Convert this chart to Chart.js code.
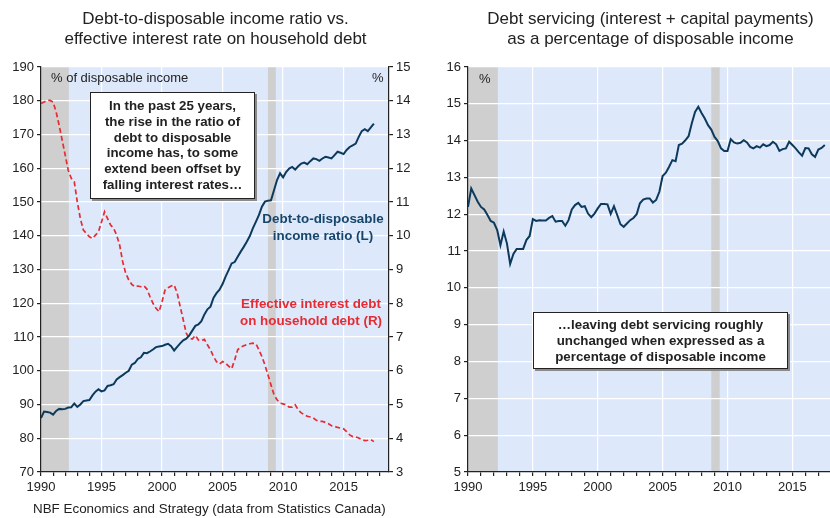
<!DOCTYPE html>
<html>
<head>
<meta charset="utf-8">
<script src="https://cdn.jsdelivr.net/npm/chart.js@4"></script>
<style>
  body { margin: 0; background: #fff; font-family: "Liberation Sans", Arial, sans-serif; color: #222; }
  #wrap { position: relative; width: 830px; height: 518px; overflow: hidden; }
  canvas { position: absolute; top: 0; }
  .title { position: absolute; top: 9px; width: 415px; text-align: center; font-size: 17px; line-height: 20px; }
  .note { position: absolute; background: #fff; border: 1px solid #222; box-shadow: 2px 2px 0 #8a8a8a;
          font-weight: bold; font-size: 13.3px; line-height: 15.8px; text-align: center; box-sizing: border-box; }
  .lbl { position: absolute; font-size: 13px; }
  .serie { position: absolute; font-weight: bold; font-size: 13.4px; line-height: 16.5px; text-align: center; }
</style>
</head>
<body>
<div id="wrap">
  <canvas id="ratioChart" width="415" height="518" style="left:0"></canvas>
  <canvas id="serviceChart" width="415" height="518" style="left:415px"></canvas>

  <div class="title" style="left:8px">Debt-to-disposable income ratio vs.<br>effective interest rate on household debt</div>
  <div class="title" style="left:443px">Debt servicing (interest + capital payments)<br>as a percentage of disposable income</div>

  <div class="lbl" style="left:51px; top:70px">% of disposable income</div>
  <div class="lbl" style="left:372px; top:70px">%</div>
  <div class="lbl" style="left:479px; top:71px">%</div>

  <div class="note" style="left:90px; top:92px; width:165px; height:107px; padding-top:5px">
    In the past 25 years,<br>the rise in the ratio of<br>debt to disposable<br>income has, to some<br>extend been offset by<br>falling interest rates…
  </div>
  <div class="note" style="left:533px; top:312px; width:255px; height:57px; padding-top:4px">
    …leaving debt servicing roughly<br>unchanged when expressed as a<br>percentage of disposable income
  </div>

  <div class="serie" style="left:243px; top:211px; width:160px; color:#17466a">Debt-to-disposable<br>income ratio (L)</div>
  <div class="serie" style="left:226px; top:296px; width:170px; color:#e62b33">Effective interest debt<br>on household debt (R)</div>

  <div class="lbl" style="left:33px; top:501px; font-size:13.4px">NBF Economics and Strategy (data from Statistics Canada)</div>
</div>

<script>
// quarterly series, first quarter of 1990 to the second quarter of 2017
var firstYear = 1990;

// household debt as % of disposable income (left axis)
var debtToIncome = [
  86.0, 87.9, 87.8, 87.6,  87.0, 88.1, 88.7, 88.6,  88.7, 89.1, 89.2, 90.3,
  89.3, 90.0, 91.0, 91.2,  91.3, 92.7, 93.8, 94.5,  93.9, 94.2, 95.5, 95.7,
  96.0, 97.4, 98.1, 98.7,  99.4, 100.0, 101.8, 102.3,  103.5, 104.0, 105.3, 105.2,
  105.7, 106.3, 107.0, 107.2,  107.3, 107.7, 108.0, 107.3,  106.0, 107.1, 108.1, 109.0,
  109.5, 110.5, 111.9, 113.3,  113.7, 114.7, 116.7, 118.2,  119.0, 121.6, 123.0, 124.0,
  125.7, 127.9, 129.8, 131.8,  132.2, 133.8, 135.3, 136.7,  138.2, 139.9, 142.2, 144.1,
  146.1, 148.6, 150.1, 150.4,  150.5, 153.5, 156.5, 158.5,  157.3, 158.9, 159.9, 160.4,
  159.6, 160.6, 161.4, 161.7,  161.2, 162.1, 162.9, 162.7,  162.2, 162.9, 163.4, 163.2,
  162.9, 163.9, 164.9, 164.6,  164.2, 165.4, 166.3, 166.8,  167.3, 169.3, 171.0, 171.6,
  171.0, 172.1, 173.2
];

// effective interest rate on household debt, % (right axis)
var effectiveRate = [
  13.92, 13.96, 14.01, 14.01,  13.96, 13.67, 13.27, 12.83,  12.39, 11.94, 11.70, 11.60,
  11.00, 10.51, 10.17, 10.07,  9.97, 9.92, 10.02, 10.12,  10.41, 10.71, 10.51, 10.32,
  10.22, 10.02, 9.72, 9.23,  8.89, 8.69, 8.56, 8.49,  8.51, 8.49, 8.52, 8.42,
  8.20, 8.00, 7.85, 7.75,  8.05, 8.39, 8.46, 8.51,  8.54, 8.30, 7.90, 7.51,
  7.11, 6.96, 6.94, 7.05,  6.91, 6.89, 6.93, 6.77,  6.62, 6.42, 6.27, 6.20,
  6.27, 6.22, 6.14, 6.06,  6.32, 6.62, 6.70, 6.74,  6.77, 6.80, 6.82, 6.80,
  6.62, 6.42, 6.17, 5.88,  5.58, 5.29, 5.14, 5.04,  5.02, 4.99, 4.92, 4.92,
  4.99, 4.84, 4.75, 4.70,  4.65, 4.63, 4.60, 4.53,  4.50, 4.50, 4.47, 4.43,
  4.37, 4.35, 4.32, 4.30,  4.28, 4.20, 4.10, 4.05,  4.04, 4.01, 3.96, 3.93,
  3.94, 3.96, 3.90
];

// debt service ratio, % of disposable income
var debtService = [
  12.20, 12.70, 12.52, 12.34,  12.20, 12.13, 11.98, 11.82,  11.77, 11.57, 11.16, 11.53,
  11.21, 10.65, 10.92, 11.06,  11.06, 11.06, 11.30, 11.41,  11.87, 11.82, 11.84, 11.83,
  11.83, 11.90, 11.95, 11.80,  11.82, 11.82, 11.69, 11.84,  12.13, 12.25, 12.31, 12.20,
  12.22, 12.02, 11.92, 12.02,  12.16, 12.28, 12.28, 12.27,  12.01, 12.22, 11.98, 11.73,
  11.66, 11.75, 11.84, 11.90,  12.00, 12.30, 12.40, 12.43,  12.43, 12.32, 12.39, 12.61,
  13.04, 13.13, 13.29, 13.47,  13.44, 13.88, 13.92, 14.01,  14.12, 14.47, 14.78, 14.92,
  14.75, 14.60, 14.42, 14.30,  14.10, 13.99, 13.79, 13.72,  13.72, 14.04, 13.95, 13.92,
  13.94, 14.01, 13.95, 13.83,  13.79, 13.85, 13.81, 13.90,  13.85, 13.88, 13.97, 13.90,
  13.72, 13.77, 13.79, 13.97,  13.88, 13.79, 13.68, 13.59,  13.80, 13.79, 13.63, 13.56,
  13.76, 13.80, 13.88
];

// recession periods (shaded)
var recessions = [[1990.0, 1992.3], [2008.75, 2009.4]];

// quarter positions on the year axis
var quarters = [];
for (var q = 0; q < debtToIncome.length; q++) {
  quarters.push(firstYear + q / 4);
}

function toPoints(values) {
  return values.map(function (v, i) { return { x: quarters[i], y: v }; });
}

Chart.defaults.font.family = "'Liberation Sans', Arial, sans-serif";
Chart.defaults.font.size = 13;
Chart.defaults.color = "#222";

var plotBg = "#dde9fb";
var shade = "#cfcfcf";
var navy = "#0d3a5c";
var red = "#e62b33";

// fills the plot area and the recession bands before the grid is drawn
var backdrop = {
  id: "backdrop",
  beforeDraw: function (chart) {
    var ctx = chart.ctx;
    var a = chart.chartArea;
    var x = chart.scales.x;
    ctx.save();
    ctx.fillStyle = plotBg;
    ctx.fillRect(a.left, a.top, a.right - a.left, a.bottom - a.top);
    ctx.fillStyle = shade;
    recessions.forEach(function (r) {
      var x0 = Math.max(x.getPixelForValue(r[0]), a.left);
      var x1 = Math.min(x.getPixelForValue(r[1]), a.right);
      ctx.fillRect(x0, a.top, x1 - x0, a.bottom - a.top);
    });
    ctx.restore();
  }
};

function yearAxis(max) {
  return {
    type: "linear",
    min: 1990,
    max: max,
    afterFit: function (s) { s.height = 46; },
    border: { display: true, color: "#222", width: 1.2 },
    grid: {
      color: function (c) {
        return c.tick && c.tick.value % 5 === 0 && c.tick.value !== 1990 ? "#ffffff" : "rgba(0,0,0,0)";
      },
      tickColor: "#222",
      tickLength: 4,
      lineWidth: 1.2
    },
    ticks: {
      stepSize: 1,
      autoSkip: false,
      includeBounds: false,
      maxRotation: 0,
      padding: 4,
      callback: function (v) { return v % 5 === 0 ? String(v) : ""; }
    }
  };
}

function valueAxis(min, max, pos, width, onArea) {
  return {
    type: "linear",
    position: pos,
    min: min,
    max: max,
    afterFit: function (s) { s.width = width; },
    border: { display: true, color: "#222", width: 1.2 },
    grid: {
      color: "#ffffff",
      lineWidth: 1.2,
      tickColor: "#222",
      tickLength: 4,
      drawOnChartArea: onArea
    },
    ticks: { stepSize: max - min > 20 ? 10 : 1, padding: 3 }
  };
}

var common = {
  responsive: false,
  animation: false,
  events: [],
  layout: { autoPadding: false, padding: { top: 67, bottom: 0, left: 0, right: 0 } },
  plugins: { legend: { display: false }, tooltip: { enabled: false } },
  elements: { point: { radius: 0 }, line: { tension: 0 } }
};

new Chart(document.getElementById("ratioChart").getContext("2d"), {
  type: "line",
  data: {
    datasets: [
      {
        label: "Debt-to-disposable income ratio (L)",
        data: toPoints(debtToIncome),
        borderColor: navy,
        borderWidth: 2,
        yAxisID: "y"
      },
      {
        label: "Effective interest debt on household debt (R)",
        data: toPoints(effectiveRate),
        borderColor: red,
        borderWidth: 1.7,
        borderDash: [5, 3],
        yAxisID: "y1"
      }
    ]
  },
  options: Object.assign({}, common, {
    scales: {
      x: yearAxis(2018.75),
      y: valueAxis(70, 190, "left", 41, true),
      y1: valueAxis(3, 15, "right", 26, false)
    }
  }),
  plugins: [backdrop]
});

new Chart(document.getElementById("serviceChart").getContext("2d"), {
  type: "line",
  data: {
    datasets: [
      {
        label: "Debt servicing",
        data: toPoints(debtService),
        borderColor: navy,
        borderWidth: 2,
        yAxisID: "y"
      }
    ]
  },
  options: Object.assign({}, common, {
    scales: {
      x: yearAxis(2017.9),
      y: valueAxis(5, 16, "left", 53, true)
    }
  }),
  plugins: [backdrop]
});
</script>
</body>
</html>
